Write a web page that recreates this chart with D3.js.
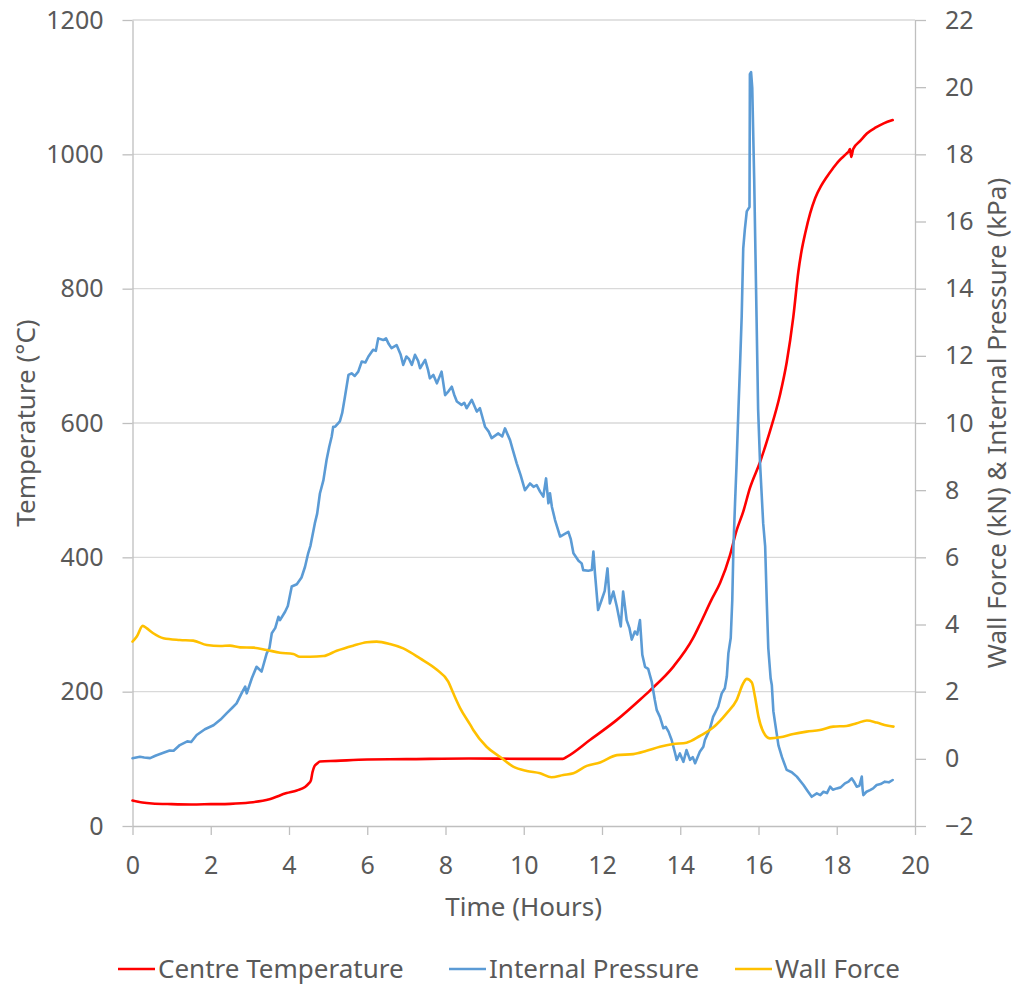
<!DOCTYPE html>
<html>
<head>
<meta charset="utf-8">
<script src="https://cdn.jsdelivr.net/npm/d3@7"></script>
<style>
  body { margin: 0; background: #fff; }
  text { font-family: "Noto Sans", "Open Sans", sans-serif; fill: #595959; }
</style>
</head>
<body>
<div id="chart"></div>
<script>
// time (hours), value pairs
const centreTemperature = [
  [0.00, 38], [0.25, 35], [0.5, 33.5], [1.0, 32.5], [1.5, 32], [2.0, 32.5], [2.5, 33],
  [3.0, 35], [3.5, 40], [3.94, 49], [4.2, 53], [4.41, 58], [4.50, 63], [4.56, 68],
  [4.60, 80], [4.65, 89], [4.72, 93], [4.79, 96], [5.2, 97], [6.0, 99], [7.0, 99.5],
  [8.6, 100.5], [10.0, 100], [11.0, 100], [11.1, 103], [11.69, 128], [12.38, 158],
  [12.97, 188], [13.23, 202], [13.82, 237], [14.33, 280], [14.5, 300], [14.8, 337],
  [15.02, 362], [15.27, 403], [15.44, 440], [15.61, 468], [15.78, 503], [16.04, 542],
  [16.29, 587], [16.55, 642], [16.72, 690], [16.89, 758], [17.02, 826], [17.1, 856],
  [17.2, 884], [17.32, 912], [17.45, 935], [17.6, 953], [17.74, 966], [17.9, 979],
  [18.05, 990], [18.25, 1001], [18.30, 1004], [18.34, 1008], [18.37, 996], [18.42, 1008],
  [18.6, 1020], [18.77, 1031], [19.0, 1040], [19.2, 1046], [19.43, 1051]
];

const internalPressure = [
  [0.00, 0.02], [0.19, 0.06], [0.30, 0.04], [0.45, 0.02], [0.60, 0.10], [0.79, 0.18],
  [0.95, 0.25], [1.05, 0.24], [1.21, 0.41], [1.40, 0.52], [1.50, 0.50], [1.64, 0.71],
  [1.85, 0.88], [2.07, 1.00], [2.25, 1.17], [2.41, 1.36], [2.55, 1.52], [2.66, 1.65],
  [2.80, 1.98], [2.88, 2.15], [2.92, 1.95], [3.05, 2.40], [3.17, 2.74], [3.30, 2.60],
  [3.43, 3.14], [3.50, 3.30], [3.56, 3.74], [3.65, 3.90], [3.73, 4.23], [3.77, 4.13],
  [3.90, 4.38], [3.97, 4.55], [4.07, 5.13], [4.20, 5.20], [4.32, 5.40], [4.41, 5.72],
  [4.49, 6.12], [4.55, 6.35], [4.66, 7.01], [4.72, 7.30], [4.79, 7.90], [4.88, 8.30],
  [4.96, 8.90], [5.03, 9.30], [5.09, 9.59], [5.13, 9.89], [5.18, 9.89], [5.30, 10.05],
  [5.36, 10.30], [5.43, 10.78], [5.52, 11.43], [5.60, 11.48], [5.68, 11.40], [5.77, 11.53],
  [5.86, 11.83], [5.95, 11.80], [6.03, 11.98], [6.15, 12.18], [6.22, 12.15], [6.28, 12.52],
  [6.41, 12.47], [6.48, 12.52], [6.55, 12.35], [6.62, 12.23], [6.75, 12.32], [6.85, 12.05],
  [6.92, 11.73], [7.00, 11.98], [7.07, 11.90], [7.14, 11.73], [7.22, 12.03], [7.30, 11.85],
  [7.35, 11.63], [7.48, 11.88], [7.55, 11.60], [7.60, 11.33], [7.69, 11.43], [7.78, 11.18],
  [7.90, 11.53], [7.99, 10.83], [8.08, 10.95], [8.16, 11.08], [8.22, 10.85], [8.29, 10.64],
  [8.41, 10.54], [8.48, 10.60], [8.54, 10.44], [8.67, 10.69], [8.80, 10.34], [8.88, 10.44],
  [9.01, 9.89], [9.10, 9.75], [9.18, 9.55], [9.35, 9.69], [9.45, 9.60], [9.52, 9.84],
  [9.65, 9.49], [9.72, 9.20], [9.82, 8.80], [9.92, 8.45], [10.03, 8.00], [10.16, 8.20],
  [10.25, 8.10], [10.33, 8.15], [10.42, 7.95], [10.50, 7.81], [10.57, 8.35], [10.63, 7.61],
  [10.67, 7.91], [10.72, 7.50], [10.80, 7.11], [10.93, 6.62], [11.05, 6.70], [11.14, 6.76],
  [11.20, 6.55], [11.27, 6.12], [11.40, 5.90], [11.48, 5.82], [11.52, 5.62], [11.65, 5.60],
  [11.74, 5.62], [11.78, 6.17], [11.82, 5.53], [11.90, 4.43], [11.99, 4.73], [12.07, 5.00],
  [12.14, 5.67], [12.20, 4.63], [12.29, 4.98], [12.38, 4.53], [12.48, 3.94], [12.54, 4.98],
  [12.63, 4.13], [12.70, 3.90], [12.76, 3.55], [12.84, 3.79], [12.90, 3.70], [12.97, 4.13],
  [13.03, 3.10], [13.10, 2.74], [13.18, 2.68], [13.27, 2.30], [13.35, 1.75], [13.40, 1.45],
  [13.48, 1.25], [13.57, 0.91], [13.63, 0.95], [13.70, 0.81], [13.78, 0.56], [13.87, 0.16],
  [13.91, -0.03], [13.99, 0.16], [14.08, -0.09], [14.16, 0.26], [14.25, -0.03], [14.32, 0.05],
  [14.38, -0.13], [14.50, 0.21], [14.59, 0.36], [14.63, 0.56], [14.76, 0.90], [14.84, 1.25],
  [14.97, 1.55], [15.06, 1.95], [15.14, 2.10], [15.19, 2.45], [15.23, 3.14], [15.29, 3.60],
  [15.33, 4.73], [15.36, 6.33], [15.40, 7.60], [15.44, 8.79], [15.49, 10.5], [15.53, 11.79],
  [15.57, 13.16], [15.61, 15.20], [15.65, 15.75], [15.70, 16.30], [15.77, 16.43],
  [15.78, 20.39], [15.81, 20.45], [15.84, 19.98], [15.89, 17.25], [15.95, 13.16],
  [15.99, 10.42], [16.04, 8.79], [16.12, 7.01], [16.17, 6.33], [16.21, 4.73], [16.25, 3.30],
  [16.31, 2.40], [16.34, 2.20], [16.38, 1.42], [16.42, 1.10], [16.51, 0.40], [16.60, 0.05],
  [16.72, -0.33], [16.85, -0.40], [16.98, -0.53], [17.15, -0.78], [17.25, -0.95],
  [17.36, -1.13], [17.49, -1.03], [17.58, -1.08], [17.66, -0.98], [17.75, -1.02],
  [17.83, -0.83], [17.90, -0.92], [18.00, -0.88], [18.10, -0.85], [18.21, -0.73],
  [18.30, -0.68], [18.38, -0.58], [18.45, -0.70], [18.51, -0.83], [18.58, -0.80],
  [18.64, -0.53], [18.66, -0.90], [18.68, -1.08], [18.76, -0.98], [18.85, -0.93],
  [18.93, -0.88], [19.02, -0.78], [19.12, -0.75], [19.23, -0.68], [19.33, -0.70], [19.43, -0.63]
];

const wallForce = [
  [0.00, 3.49], [0.11, 3.64], [0.26, 3.96], [0.36, 3.89], [0.53, 3.74], [0.79, 3.59],
  [1.21, 3.54], [1.55, 3.52], [1.90, 3.39], [2.24, 3.36], [2.49, 3.37], [2.75, 3.32],
  [3.09, 3.31], [3.43, 3.24], [3.77, 3.16], [4.11, 3.12], [4.28, 3.04], [4.54, 3.04],
  [4.88, 3.06], [5.22, 3.22], [5.64, 3.37], [5.99, 3.47], [6.24, 3.49], [6.58, 3.42],
  [6.92, 3.29], [7.35, 2.99], [7.78, 2.65], [8.07, 2.30], [8.20, 1.95], [8.37, 1.52],
  [8.63, 1.02], [8.71, 0.86], [9.05, 0.36], [9.39, 0.06], [9.73, -0.23], [10.08, -0.36],
  [10.42, -0.43], [10.71, -0.55], [11.01, -0.48], [11.27, -0.43], [11.61, -0.21],
  [11.95, -0.11], [12.38, 0.11], [12.80, 0.14], [13.14, 0.24], [13.48, 0.36], [13.82, 0.44],
  [14.16, 0.48], [14.50, 0.68], [14.84, 0.93], [15.19, 1.36], [15.44, 1.75], [15.61, 2.25],
  [15.70, 2.38], [15.83, 2.27], [15.91, 1.85], [16.00, 1.25], [16.12, 0.81], [16.29, 0.61],
  [16.55, 0.64], [16.89, 0.74], [17.23, 0.81], [17.57, 0.86], [17.91, 0.96], [18.25, 0.98],
  [18.51, 1.06], [18.77, 1.14], [19.02, 1.08], [19.28, 0.99], [19.45, 0.96]
];

const xTicks = [0, 2, 4, 6, 8, 10, 12, 14, 16, 18, 20];
const leftTicks = [0, 200, 400, 600, 800, 1000, 1200];
const rightTicks = [-2, 0, 2, 4, 6, 8, 10, 12, 14, 16, 18, 20, 22];

const series = [
  { name: 'Centre Temperature', data: centreTemperature, color: '#ff0000', axis: 'left', smooth: true },
  { name: 'Internal Pressure', data: internalPressure, color: '#5b9bd5', axis: 'right', smooth: false },
  { name: 'Wall Force', data: wallForce, color: '#ffc000', axis: 'right', smooth: true }
];

const width = 1016, height = 985;
const plot = { left: 132.5, right: 915, top: 20, bottom: 826 };
const tickFont = '25px';
const titleFont = '26px';

const svg = d3.select('#chart').append('svg')
  .attr('width', width)
  .attr('height', height);

const x = d3.scaleLinear().domain([0, 20]).range([plot.left, plot.right]);
const yLeft = d3.scaleLinear().domain([0, 1200]).range([plot.bottom, plot.top]);
const yRight = d3.scaleLinear().domain([-2, 22]).range([plot.bottom, plot.top]);

// horizontal gridlines
svg.append('g')
  .selectAll('line')
  .data(leftTicks.filter(d => d > 0))
  .enter()
  .append('line')
  .attr('x1', plot.left)
  .attr('x2', plot.right)
  .attr('y1', d => yLeft(d))
  .attr('y2', d => yLeft(d))
  .attr('stroke', '#d9d9d9')
  .attr('stroke-width', 1.3);

function styleAxis(g) {
  g.selectAll('.domain').attr('stroke', '#bfbfbf').attr('stroke-width', 1.3);
  g.selectAll('.tick line').attr('stroke', '#bfbfbf').attr('stroke-width', 1.3);
  g.selectAll('.tick text')
    .attr('fill', '#595959')
    .style('font-family', '"Noto Sans", "Open Sans", sans-serif')
    .style('font-size', tickFont);
}

svg.append('g')
  .attr('transform', `translate(0,${plot.bottom})`)
  .call(d3.axisBottom(x).tickValues(xTicks).tickFormat(d3.format('d'))
    .tickSize(9).tickSizeOuter(0).tickPadding(21))
  .call(styleAxis);

svg.append('g')
  .attr('transform', `translate(${plot.left},0)`)
  .call(d3.axisLeft(yLeft).tickValues(leftTicks).tickFormat(d3.format('d'))
    .tickSize(10).tickSizeOuter(0).tickPadding(19))
  .call(styleAxis);

svg.append('g')
  .attr('transform', `translate(${plot.right},0)`)
  .call(d3.axisRight(yRight).tickValues(rightTicks).tickFormat(d3.format('d'))
    .tickSize(11).tickSizeOuter(0).tickPadding(19))
  .call(styleAxis);

// data lines
series.forEach(s => {
  const yScale = s.axis === 'left' ? yLeft : yRight;
  const line = d3.line()
    .curve(s.smooth ? d3.curveMonotoneX : d3.curveLinear)
    .x(d => x(d[0]))
    .y(d => yScale(d[1]));
  svg.append('path')
    .datum(s.data)
    .attr('fill', 'none')
    .attr('stroke', s.color)
    .attr('stroke-width', 2.6)
    .attr('stroke-linejoin', 'round')
    .attr('stroke-linecap', 'round')
    .attr('d', line);
});

// axis titles
svg.append('text')
  .attr('transform', `translate(26,${(plot.top + plot.bottom) / 2}) rotate(-90)`)
  .attr('text-anchor', 'middle')
  .attr('dy', '0.35em')
  .style('font-size', titleFont)
  .text('Temperature (°C)');

svg.append('text')
  .attr('transform', `translate(997,${(plot.top + plot.bottom) / 2}) rotate(-90)`)
  .attr('text-anchor', 'middle')
  .attr('dy', '0.35em')
  .style('font-size', titleFont)
  .text('Wall Force (kN) & Internal Pressure (kPa)');

svg.append('text')
  .attr('x', (plot.left + plot.right) / 2)
  .attr('y', 907)
  .attr('text-anchor', 'middle')
  .attr('dy', '0.35em')
  .style('font-size', titleFont)
  .text('Time (Hours)');

// legend
const legendX = [118, 449, 735];
const legend = svg.append('g');
series.forEach((s, i) => {
  const g = legend.append('g').attr('transform', `translate(${legendX[i]},969)`);
  g.append('line')
    .attr('x1', 0).attr('x2', 37)
    .attr('stroke', s.color)
    .attr('stroke-width', 2.6);
  g.append('text')
    .attr('x', 40)
    .attr('dy', '0.35em')
    .style('font-size', titleFont)
    .text(s.name);
});
</script>
</body>
</html>
